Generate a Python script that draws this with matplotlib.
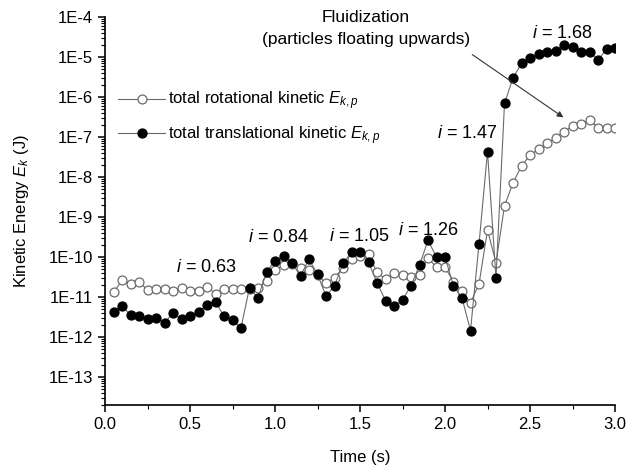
import numpy as np
import matplotlib.pyplot as plt
from matplotlib.ticker import FixedLocator, FuncFormatter, LogLocator, MultipleLocator, NullFormatter

plt.rcParams["font.family"] = ["Liberation Sans", "DejaVu Sans"]
plt.rcParams["mathtext.fontset"] = "custom"
plt.rcParams["mathtext.rm"] = "Liberation Sans"
plt.rcParams["mathtext.it"] = "Liberation Sans:italic"

time = np.round(np.arange(1, 61) * 0.05, 2)

# total rotational kinetic energy (open circles), J
rot = [1.3e-11, 2.6e-11, 2.1e-11, 2.4e-11, 1.5e-11, 1.6e-11, 1.6e-11, 1.4e-11, 1.7e-11, 1.4e-11,
       1.4e-11, 1.8e-11, 1.2e-11, 1.55e-11, 1.55e-11, 1.55e-11, 1.6e-11, 1.7e-11, 2.5e-11, 4.7e-11,
       6.3e-11, 6.5e-11, 5.4e-11, 4.7e-11, 3.5e-11, 2.2e-11, 3.0e-11, 5.4e-11, 8.7e-11, 1.05e-10,
       1.2e-10, 4.1e-11, 2.8e-11, 4.0e-11, 3.5e-11, 3.1e-11, 3.5e-11, 9.5e-11, 5.5e-11, 5.5e-11,
       2.4e-11, 1.4e-11, 7.2e-12, 2.1e-11, 4.7e-10, 7.2e-11, 1.9e-9, 7.1e-9, 1.9e-8, 3.5e-8,
       5.0e-8, 6.9e-8, 9.5e-8, 1.35e-7, 1.9e-7, 2.1e-7, 2.7e-7, 1.7e-7, 1.7e-7, 1.65e-7]

# total translational kinetic energy (filled circles), J
trans = [4.3e-12, 6.0e-12, 3.5e-12, 3.3e-12, 2.8e-12, 3.0e-12, 2.3e-12, 3.9e-12, 2.8e-12, 3.4e-12,
         4.3e-12, 6.3e-12, 7.6e-12, 3.3e-12, 2.6e-12, 1.7e-12, 1.7e-11, 9.5e-12, 4.2e-11, 8.1e-11,
         1.05e-10, 6.9e-11, 3.4e-11, 8.7e-11, 3.7e-11, 1.05e-11, 1.9e-11, 6.9e-11, 1.3e-10, 1.35e-10,
         7.4e-11, 2.3e-11, 8.1e-12, 5.8e-12, 8.5e-12, 1.9e-11, 6.3e-11, 2.6e-10, 1.0e-10, 1.0e-10,
         1.9e-11, 9.5e-12, 1.45e-12, 2.1e-10, 4.3e-8, 3.0e-11, 6.9e-7, 3.0e-6, 6.9e-6, 9.3e-6,
         1.17e-5, 1.3e-5, 1.4e-5, 2.0e-5, 1.75e-5, 1.3e-5, 1.3e-5, 8.5e-6, 1.55e-5, 1.7e-5]

# flow-rate labels: (text, time, energy)
labels = [("0.63", 0.594, 5.6e-11), ("0.84", 1.018, 3.0e-10), ("1.05", 1.494, 3.2e-10),
          ("1.26", 1.90, 4.5e-10), ("1.47", 2.13, 1.2e-7), ("1.68", 2.69, 3.9e-5)]

fig = plt.figure(figsize=(6.3, 4.67), dpi=100)
ax = fig.add_axes([105 / 630, 62 / 467, 510 / 630, 388 / 467])

ax.plot(time, rot, color="#6b6b6b", lw=0.8, marker="o", ms=6.4, mfc="white",
        mec="#6b6b6b", mew=0.9, label=r"total rotational kinetic $E_{k,p}$", zorder=2)
ax.plot(time, trans, color="#6b6b6b", lw=0.8, marker="o", ms=6.4, mfc="black",
        mec="black", label=r"total translational kinetic $E_{k,p}$", zorder=3)

ax.set_yscale("log")
ax.set_xlim(0, 3.0)
ax.set_ylim(10 ** -13.7, 1e-4)

ax.yaxis.set_major_locator(FixedLocator([10.0 ** -k for k in range(4, 14)]))
ax.yaxis.set_major_formatter(FuncFormatter(lambda v, p: f"1E-{int(round(-np.log10(v)))}"))
ax.yaxis.set_minor_locator(LogLocator(base=10, subs=np.arange(2, 10), numticks=30))
ax.yaxis.set_minor_formatter(NullFormatter())
ax.xaxis.set_major_locator(MultipleLocator(0.5))
ax.xaxis.set_minor_locator(MultipleLocator(0.25))
ax.xaxis.set_major_formatter(FuncFormatter(lambda v, p: f"{v:.1f}"))

for s in ["top", "right"]:
    ax.spines[s].set_visible(False)
for s in ["left", "bottom"]:
    ax.spines[s].set_linewidth(1.2)
ax.tick_params(which="major", length=5, width=1.1, labelsize=12, direction="out")
ax.tick_params(which="minor", length=3, width=0.8, direction="out")

ax.set_xlabel("Time (s)", fontsize=12, labelpad=13)
ax.set_ylabel(r"Kinetic Energy $E_k$ (J)", fontsize=12, labelpad=13)

for txt, t, e in labels:
    ax.text(t, e, f"$i$ = {txt}", fontsize=13, ha="center", va="center")

ax.text(2.147, 10 ** -4.29, "Fluidization\n(particles floating upwards)", fontsize=12.5,
        ha="right", va="center", multialignment="center", linespacing=1.6, clip_on=False)
ax.annotate("", xy=(2.71, 10 ** -6.55), xytext=(2.147, 10 ** -4.9),
            arrowprops=dict(arrowstyle="-|>", color="#333333", lw=0.8, mutation_scale=9))

ax.legend(loc="center left", bbox_to_anchor=(0.01, 0.739), frameon=False, fontsize=12,
          handlelength=2.8, handletextpad=0.2, labelspacing=0.7, borderpad=0)

fig.savefig("out.png", dpi=100)
